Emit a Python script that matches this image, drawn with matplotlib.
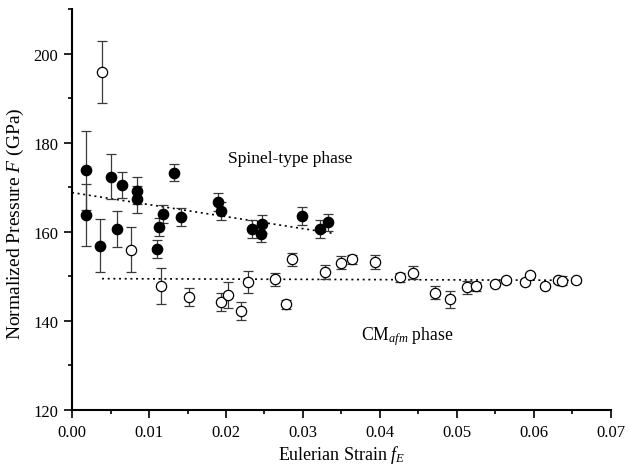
import numpy as np
import matplotlib
matplotlib.use('Agg')
import matplotlib.pyplot as plt
from matplotlib.ticker import MultipleLocator, FormatStrFormatter

# ── Data ─────────────────────────────────────────────────────────────────────

# Spinel-type phase (filled circles)
spinel_f = [0.0018, 0.0018, 0.0036, 0.0050, 0.0058, 0.0065, 0.0084, 0.0084,
            0.0111, 0.0113, 0.0118, 0.0132, 0.0142, 0.0189, 0.0194, 0.0234,
            0.0247, 0.0245, 0.0299, 0.0322, 0.0333]
spinel_F = [173.8, 163.7, 156.9, 172.4, 160.6, 170.5, 169.2, 167.3,
            156.1, 161.1, 164.0, 173.3, 163.4, 166.7, 164.7, 160.7,
            161.8, 159.6, 163.6, 160.6, 162.1]
spinel_err = [8.8, 7.0, 6.0, 5.0, 4.0, 3.0, 3.0, 3.0,
              2.0, 2.0, 2.0, 2.0, 2.0, 2.0, 2.0, 2.0,
              2.0, 2.0, 2.0, 2.0, 2.0]

# CMafm phase (open circles)
cm_f = [0.0039, 0.0077, 0.0115, 0.0152, 0.0194, 0.0203, 0.0219, 0.0229,
        0.0263, 0.0278, 0.0286, 0.0329, 0.0350, 0.0363, 0.0394, 0.0426,
        0.0443, 0.0472, 0.0491, 0.0513, 0.0525, 0.0550, 0.0564, 0.0588,
        0.0595, 0.0614, 0.0631, 0.0637, 0.0654]
cm_F = [195.8, 156.0, 147.8, 145.4, 144.3, 145.8, 142.3, 148.7,
        149.3, 143.7, 153.8, 151.0, 153.1, 153.8, 153.2, 149.8,
        150.8, 146.3, 144.8, 147.5, 147.8, 148.3, 149.1, 148.8,
        150.3, 147.8, 149.1, 149.0, 149.1]
cm_err = [7.0, 5.0, 4.0, 2.0, 2.0, 3.0, 2.0, 2.5,
          1.5, 1.0, 1.5, 1.5, 1.5, 1.0, 1.5, 1.0,
          1.5, 1.5, 2.0, 1.5, 1.0, 0.5, 0.5, 0.5,
          0.5, 0.5, 0.5, 1.0, 0.5]

# linear fits: (intercept, slope, x_start, x_end)
spinel_fit = (168.8, -270.0, 0.0, 0.0338)
cm_fit = (149.5, -6.0, 0.0039, 0.0656)

# ── Style ────────────────────────────────────────────────────────────────────

plt.rcParams['font.family'] = ['Liberation Serif', 'DejaVu Serif']
plt.rcParams['mathtext.fontset'] = 'custom'
plt.rcParams['mathtext.rm'] = 'Liberation Serif'
plt.rcParams['mathtext.it'] = 'Liberation Serif:italic'

fig = plt.figure(figsize=(6.3, 4.77), dpi=100)
ax = fig.add_axes([0.1143, 0.1384, 0.8555, 0.8406])

err_color = '#3a3a3a'

ax.errorbar(spinel_f, spinel_F, yerr=spinel_err, fmt='o', ms=7.4,
            mfc='black', mec='black', ecolor=err_color, elinewidth=0.9,
            capsize=3.3, capthick=0.9, zorder=3)
ax.errorbar(cm_f, cm_F, yerr=cm_err, fmt='o', ms=7.4,
            mfc='white', mec='black', mew=0.9, ecolor=err_color,
            elinewidth=0.9, capsize=3.3, capthick=0.9, zorder=3)

for b, m, x0, x1 in (spinel_fit, cm_fit):
    xs = np.array([x0, x1])
    ax.plot(xs, b + m * xs, ls=(0, (1.2, 2.2)), color='black', lw=1.2,
            zorder=2)

ax.text(0.0283, 176.5, 'Spinel-type phase', fontsize=12.5,
        ha='center', va='center')
ax.text(0.0436, 136.8, r'CM$_{afm}$ phase', fontsize=12.7,
        ha='center', va='center')

ax.set_xlim(0.0, 0.07)
ax.set_ylim(120, 210)
ax.xaxis.set_major_locator(MultipleLocator(0.01))
ax.xaxis.set_minor_locator(MultipleLocator(0.005))
ax.xaxis.set_major_formatter(FormatStrFormatter('%.2f'))
ax.yaxis.set_major_locator(MultipleLocator(20))
ax.yaxis.set_minor_locator(MultipleLocator(10))

for side in ('top', 'right'):
    ax.spines[side].set_visible(False)
for side in ('left', 'bottom'):
    ax.spines[side].set_linewidth(1.5)

ax.tick_params(which='major', direction='out', length=5.5, width=1.2,
               labelsize=12, pad=4.5)
ax.tick_params(which='minor', direction='out', length=3, width=1.2)

ax.set_xlabel(r'Eulerian Strain $f_E$', fontsize=13, labelpad=2)
ax.set_ylabel(r'Normalized Pressure $F$ (GPa)', fontsize=14)
ax.yaxis.set_label_coords(-0.085, 0.468)

fig.savefig('out.png', dpi=100)
